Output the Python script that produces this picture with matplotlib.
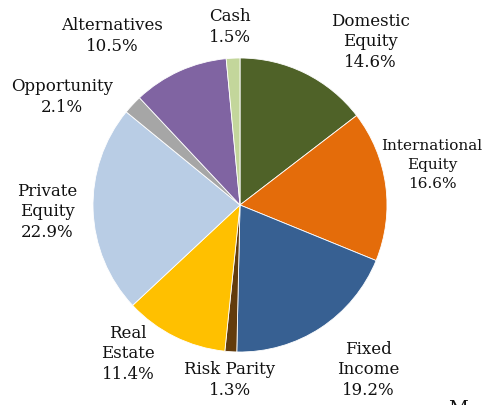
import matplotlib.pyplot as plt

# slice data, clockwise from 12 o'clock
labels = ["Domestic\nEquity", "International\nEquity", "Fixed\nIncome", "Risk Parity",
          "Real\nEstate", "Private\nEquity", "Opportunity", "Alternatives", "Cash"]
values = [14.6, 16.6, 19.2, 1.3, 11.4, 22.9, 2.1, 10.5, 1.5]
colors = ["#4F6228", "#E46C0A", "#376092", "#633C0C", "#FFC000",
          "#B9CDE5", "#A6A6A6", "#8064A2", "#C3D69B"]

# label centres in pixel coords (y from top)
label_pos = [(370, 42), (432, 165), (368, 370), (230, 380), (128, 354),
             (47, 212), (62, 97), (112, 36), (230, 27)]
label_size = [12, 11, 12, 12, 12, 12, 12, 12, 12]
label_spacing = [1.25, 1.5, 1.25, 1.25, 1.25, 1.25, 1.25, 1.25, 1.25]

W, H = 487, 405
fig = plt.figure(figsize=(W / 100, H / 100), dpi=100)
ax = fig.add_axes([0, 0, 1, 1])

ax.pie(values, colors=colors, startangle=90, counterclock=False,
       center=(240, H - 205), radius=147,
       wedgeprops=dict(edgecolor="white", linewidth=0.6), frame=True)
ax.set_xlim(0, W)
ax.set_ylim(0, H)
ax.set_aspect("equal")
ax.axis("off")

for lab, v, (x, y), fs, ls in zip(labels, values, label_pos, label_size, label_spacing):
    ax.text(x, H - y, f"{lab}\n{v:.1f}%", ha="center", va="center",
            fontsize=fs, family="DejaVu Serif", linespacing=ls, color="#111111")

# cut-off letter at bottom edge (only its top shows, as in the source)
ax.text(458, -13, "M", ha="center", va="bottom", fontsize=14,
        family="DejaVu Serif", color="#111111")

fig.savefig("out.png", dpi=100)
